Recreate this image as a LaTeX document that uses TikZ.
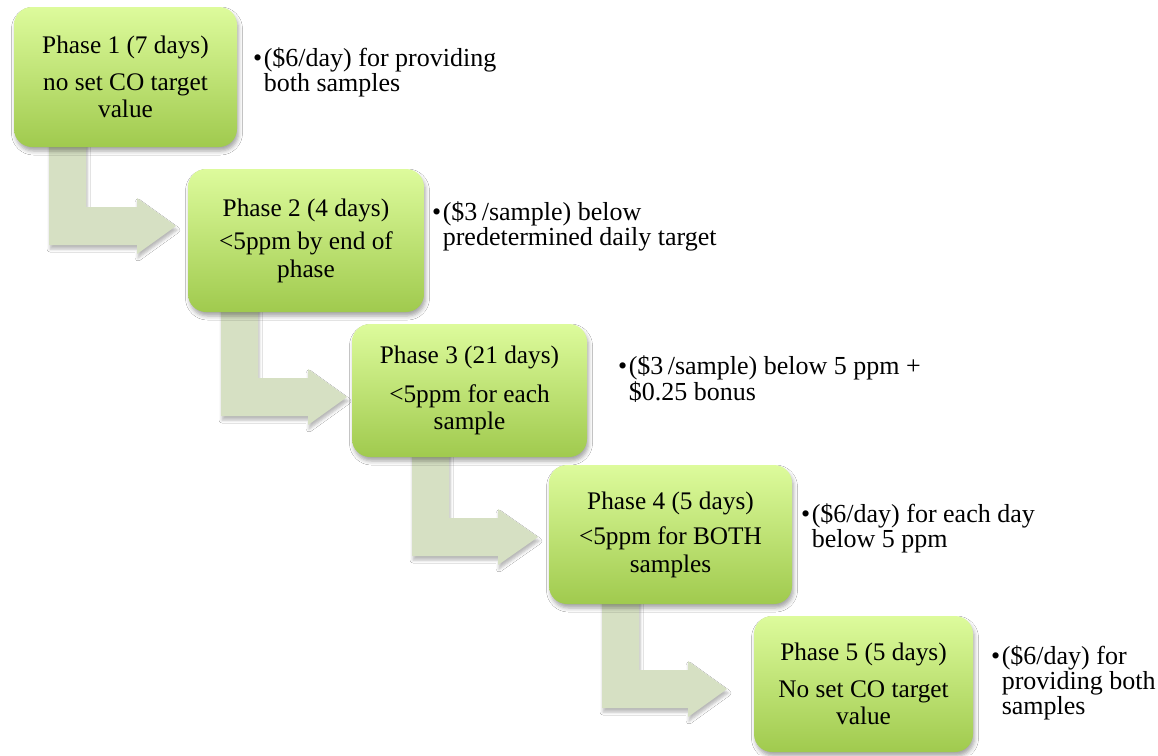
\documentclass[tikz,border=0pt]{standalone}
\usepackage{fontspec}
\setmainfont{Liberation Serif}
\usetikzlibrary{shadows.blur}
\definecolor{boxtop}{RGB}{221,251,156}
\definecolor{boxbot}{RGB}{160,202,78}
\definecolor{arrowfill}{RGB}{214,224,195}
\tikzset{
  phasebox/.style={rounded corners=18pt, top color=boxtop, bottom color=boxbot,
    draw=none, align=center, inner sep=0pt,
    font=\fontsize{25.3}{27.5}\selectfont,
    blur shadow={shadow xshift=1.5pt, shadow yshift=-4pt, shadow blur radius=4pt, shadow opacity=35}},
  bentarrow/.style={fill=arrowfill, draw=none,
    blur shadow={shadow xshift=1pt, shadow yshift=-4pt, shadow blur radius=3pt, shadow opacity=28}},
  note/.style={anchor=base west, inner sep=0pt, align=left,
    font=\fontsize{26}{24.5}\selectfont}
}
% xleft, ytop, ymid, xbase, xtip
\newcommand\bentarr[5]{%
  \fill[bentarrow] (#1,#2) -- (#1+37,#2) -- (#1+37,#3-19) -- (#4,#3-19) -- (#4,#3-28)
    -- (#5,#3) -- (#4,#3+28) -- (#4,#3+19) -- (#1,#3+19) -- cycle;}
\newcommand\bul[1]{\begin{tabular}[t]{@{}l@{\hspace{1.5pt}}l@{}}#1\end{tabular}}
\begin{document}
\begin{tikzpicture}[x=1pt,y=-1pt]
\useasboundingbox (0,0) rectangle (1158,755);
\fill[white] (0,0) rectangle (1158,755);

\bentarr{49}{137}{226}{137}{176}
\bentarr{221}{302}{397}{308}{347}
\bentarr{412}{447}{537}{498}{538}
\bentarr{602}{594}{689}{688}{727}

\node[phasebox, minimum width=223pt, minimum height=140pt] (p1) at (125.5,77)
  {Phase 1 (7 days)\\[9pt]no set CO target\\value};
\node[phasebox, minimum width=236pt, minimum height=143pt] (p2) at (306,240.5)
  {Phase 2 (4 days)\\[6pt]<5ppm by end of\\phase};
\node[phasebox, minimum width=235pt, minimum height=133pt] (p3) at (469.5,390.5)
  {Phase 3 (21 days)\\[11pt]<5ppm for each\\sample};
\node[phasebox, minimum width=243pt, minimum height=139pt] (p4) at (670.5,534.5)
  {Phase 4 (5 days)\\[8pt]<5ppm for BOTH\\samples};
\node[phasebox, minimum width=219pt, minimum height=136pt] (p5) at (863.5,684)
  {Phase 5 (5 days)\\[9pt]No set CO target\\value};

\node[note] (n1) at (253,66) {\bul{\textbullet & (\$6/day) for providing\\ & both samples}};
\node[note] (n2) at (432,220) {\bul{\textbullet & (\$3\,/sample) below\\ & predetermined daily target}};
\node[note] (n3) at (618,374) {\bul{\textbullet & (\$3\,/sample) below 5 ppm +\\ & \$0.25 bonus}};
\node[note] (n4) at (801,522) {\bul{\textbullet & (\$6/day) for each day\\ & below 5 ppm}};
\node[note] (n5) at (991,664) {\bul{\textbullet & (\$6/day) for\\ & providing both\\ & samples}};
\end{tikzpicture}
\end{document}
